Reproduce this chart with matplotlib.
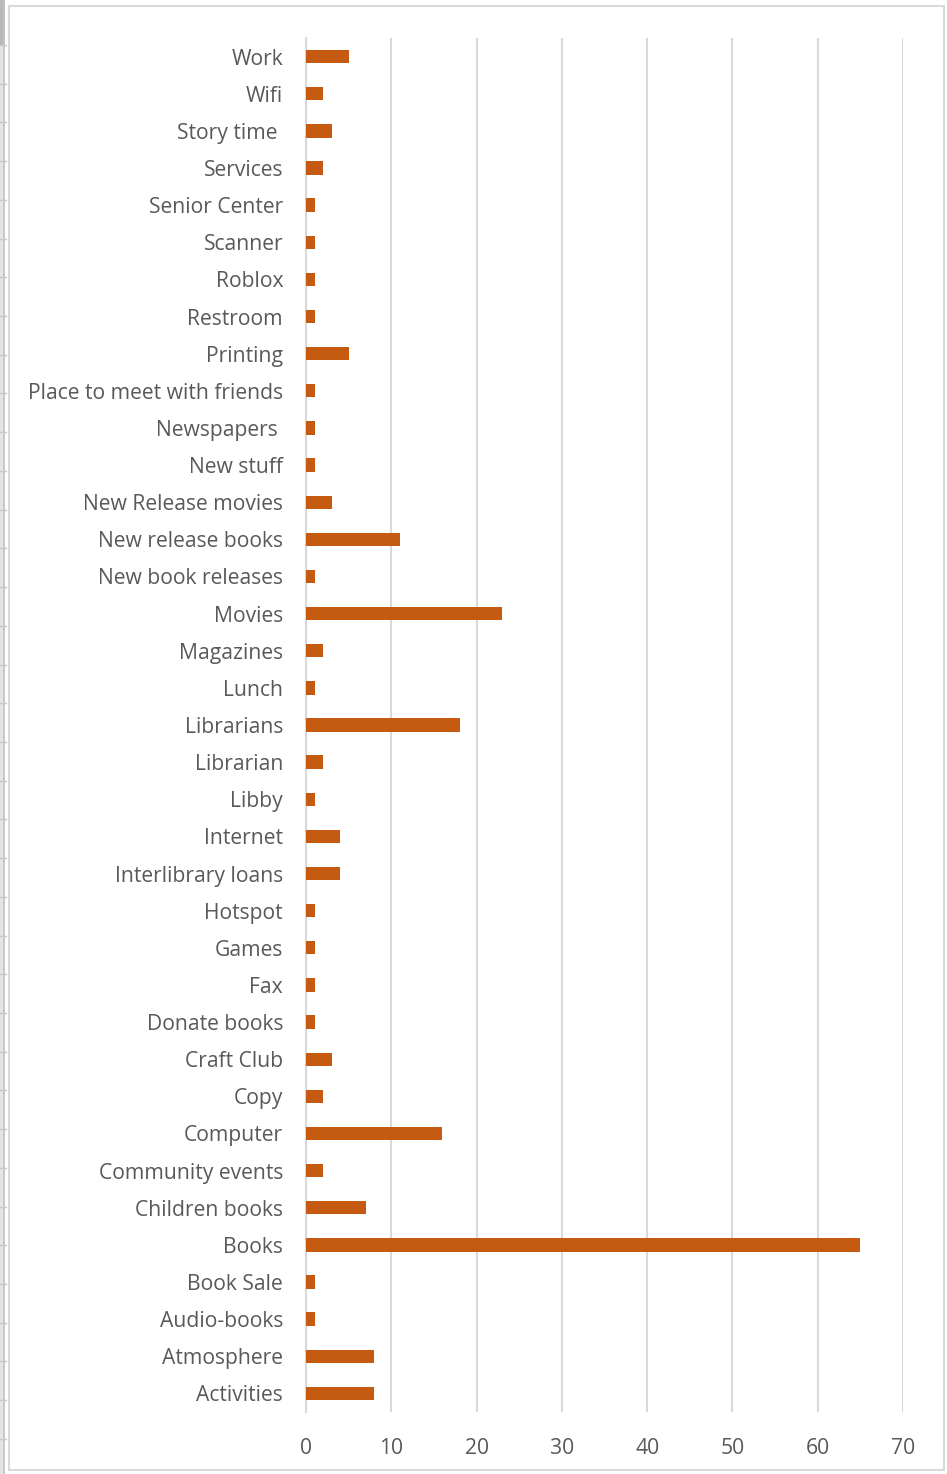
import matplotlib.pyplot as plt
from matplotlib.patches import Rectangle
from matplotlib.lines import Line2D

plt.rcParams['font.family'] = ['Open Sans', 'DejaVu Sans']

# categories top to bottom as shown
labels = ['Work', 'Wifi', 'Story time ', 'Services', 'Senior Center', 'Scanner',
          'Roblox', 'Restroom', 'Printing', 'Place to meet with friends',
          'Newspapers ', 'New stuff', 'New Release movies', 'New release books',
          'New book releases', 'Movies', 'Magazines', 'Lunch', 'Librarians',
          'Librarian', 'Libby', 'Internet', 'Interlibrary loans', 'Hotspot',
          'Games', 'Fax', 'Donate books', 'Craft Club', 'Copy', 'Computer',
          'Community events', 'Children books', 'Books', 'Book Sale',
          'Audio-books', 'Atmosphere', 'Activities']
counts = [5, 2, 3, 2, 1, 1,
          1, 1, 5, 1,
          1, 1, 3, 11,
          1, 23, 2, 1, 18,
          2, 1, 4, 4, 1,
          1, 1, 1, 3, 2, 16,
          2, 7, 65, 1,
          1, 8, 8]
xticks = [0, 10, 20, 30, 40, 50, 60, 70]

bar_color = '#C55A11'
text_color = '#595959'
grid_color = '#D9D9D9'

W, H = 947, 1474
fig = plt.figure(figsize=(W / 100, H / 100), dpi=100)
ax = fig.add_axes([306 / W, 1 - 1412 / H, (903 - 306) / W, (1412 - 38) / H])

n = len(labels)
ypos = list(range(n - 1, -1, -1))
ax.barh(ypos, counts, height=0.36, color=bar_color, zorder=3)

ax.set_xlim(0, 70)
ax.set_ylim(-0.5, n - 0.5)
ax.set_xticks(xticks)
ax.set_yticks(ypos)
ax.set_yticklabels(labels)
ax.tick_params(axis='both', length=0, colors=text_color, labelsize=15.2)
ax.tick_params(axis='y', pad=16.5)
ax.tick_params(axis='x', pad=18.5)
ax.grid(axis='x', color=grid_color, lw=1.5, zorder=0)
for s in ['top', 'right', 'bottom']:
    ax.spines[s].set_visible(False)
ax.spines['left'].set_color(grid_color)
ax.spines['left'].set_linewidth(1.5)

# chart frame
fig.patches.append(Rectangle((9 / W, 4 / H), 935 / W, 1464 / H,
                             transform=fig.transFigure, fill=False,
                             edgecolor=grid_color, lw=1.5))

# spreadsheet edge visible at the left of the screenshot
fig.patches.append(Rectangle((0, 0), 5 / W, 1, transform=fig.transFigure,
                             facecolor='#E4E4E4', edgecolor='none'))
fig.patches.append(Rectangle((0, 1 - 45 / H), 5 / W, 45 / H,
                             transform=fig.transFigure,
                             facecolor='#B8B8B8', edgecolor='none'))
fig.lines.append(Line2D([4 / W, 4 / W], [0, 1], transform=fig.transFigure,
                        color='#C4C4C4', lw=1.2))
k = 0
while 45 + k * 38.72 < H:
    yy = 1 - (45 + k * 38.72) / H
    fig.lines.append(Line2D([0, 6 / W], [yy, yy], transform=fig.transFigure,
                            color='#C8C8C8', lw=1.0))
    k += 1

fig.savefig('out.png', dpi=100, facecolor='white')
